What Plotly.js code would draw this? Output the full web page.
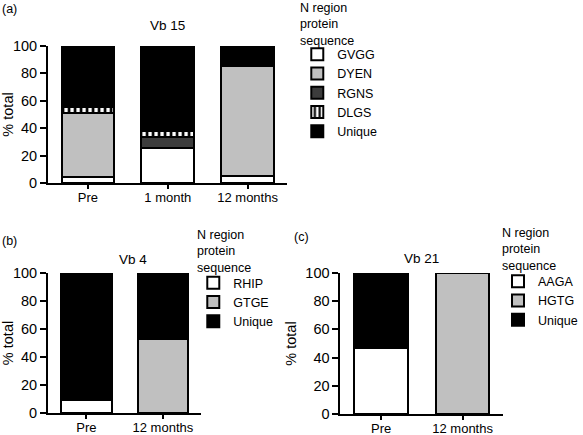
<!DOCTYPE html>
<html>
<head>
<meta charset="utf-8">
<script src="https://cdn.plot.ly/plotly-3.0.1.min.js"></script>
<style>html,body{margin:0;padding:0;background:#fff;}#chart{width:583px;height:435px;}</style>
</head>
<body>
<div id="chart"></div>
<script>
// Panel (a) Vb 15
const catsA = ['Pre', '1 month', '12 months'];
const gvgg = [4.2, 25.7, 4.8];
const dyen = [46.8, 0, 80.4];
const rgns = [0, 8.1, 0];
const dlgs = [4.6, 4.4, 0];
const uniqueA = [44.4, 61.8, 14.8];

// Panel (b) Vb 4
const catsB = ['Pre', '12 months'];
const rhip = [9.5, 0];
const gtge = [0, 53.2];
const uniqueB = [90.5, 46.8];

// Panel (c) Vb 21
const catsC = ['Pre', '12 months'];
const aaga = [46.7, 0];
const hgtg = [0, 100];
const uniqueC = [53.3, 0];

const yTicks = [0, 20, 40, 60, 80, 100];
const legendTitle = 'N region<br>protein<br>sequence';

const FONT = 'Liberation Sans, Arial, Helvetica, sans-serif';
const LINE = {color: '#000', width: 2};
const BW = 0.66;

function bar(name, x, y, color, xa, ya, leg, pattern) {
  const marker = {color: color, line: LINE};
  if (pattern) marker.pattern = pattern;
  return {type: 'bar', name: name, x: x, y: y, xaxis: xa, yaxis: ya,
          legend: leg, width: BW, marker: marker, hoverinfo: 'skip'};
}

const stripe = {shape: '|', fgcolor: '#000', bgcolor: '#fff', size: 6, solidity: 0.45};

const data = [
  bar('GVGG', catsA, gvgg, '#ffffff', 'x', 'y', 'legend'),
  bar('DYEN', catsA, dyen, '#c0c0c0', 'x', 'y', 'legend'),
  bar('RGNS', catsA, rgns, '#3c3c3c', 'x', 'y', 'legend'),
  bar('DLGS', catsA, dlgs, '#ffffff', 'x', 'y', 'legend', stripe),
  bar('Unique', catsA, uniqueA, '#000000', 'x', 'y', 'legend'),

  bar('RHIP', catsB, rhip, '#ffffff', 'x2', 'y2', 'legend2'),
  bar('GTGE', catsB, gtge, '#c0c0c0', 'x2', 'y2', 'legend2'),
  bar('Unique', catsB, uniqueB, '#000000', 'x2', 'y2', 'legend2'),

  bar('AAGA', catsC, aaga, '#ffffff', 'x3', 'y3', 'legend3'),
  bar('HGTG', catsC, hgtg, '#c0c0c0', 'x3', 'y3', 'legend3'),
  bar('Unique', catsC, uniqueC, '#000000', 'x3', 'y3', 'legend3')
];

function xax(domain, anchor, n) {
  return {domain: domain, anchor: anchor, range: [-0.5, n - 0.5], type: 'category',
          showline: true, linecolor: '#000', linewidth: 2, ticks: 'outside',
          ticklen: 4, tickwidth: 2, tickcolor: '#000', showgrid: false, zeroline: false,
          ticklabelstandoff: -3,
          tickfont: {family: FONT, size: 13, color: '#000'}, fixedrange: true};
}
function yax(domain, anchor) {
  return {domain: domain, anchor: anchor, range: [0, 100], tickvals: yTicks,
          showline: true, linecolor: '#000', linewidth: 2, ticks: 'outside',
          ticklen: 6, tickwidth: 2, tickcolor: '#000', showgrid: false, zeroline: false,
          tickfont: {family: FONT, size: 14.5, color: '#000'},
          title: {text: '% total', font: {family: FONT, size: 14.5, color: '#000'}, standoff: 5},
          fixedrange: true};
}
function leg(x, y) {
  return {x: x, y: y, xanchor: 'left', yanchor: 'top', traceorder: 'normal',
          bgcolor: 'rgba(0,0,0,0)', borderwidth: 0,
          font: {family: FONT, size: 12.5, color: '#000'},
          itemwidth: 30, itemclick: false, itemdoubleclick: false};
}
const W = 583, H = 435;
function legTitle(xpx, ypx) {
  return {text: legendTitle, x: xpx / W, y: 1 - ypx / H, xref: 'paper', yref: 'paper',
          xanchor: 'left', yanchor: 'top', align: 'left', showarrow: false,
          font: {family: FONT, size: 12.5, color: '#000'}};
}

const layout = {
  width: W, height: H,
  margin: {l: 0, r: 0, t: 0, b: 0},
  paper_bgcolor: '#fff', plot_bgcolor: '#fff',
  barmode: 'stack',
  showlegend: true,
  font: {family: FONT, color: '#000'},
  xaxis: xax([49 / W, 293 / W], 'y', 3),
  yaxis: yax([1 - 183 / H, 1 - 46 / H], 'x'),
  xaxis2: xax([49 / W, 205 / W], 'y2', 2),
  yaxis2: yax([1 - 413 / H, 1 - 273 / H], 'x2'),
  xaxis3: xax([347 / W, 513 / W], 'y3', 2),
  yaxis3: yax([1 - 414 / H, 1 - 273 / H], 'x3'),
  legend: leg(303 / W, 1 - 39.5 / H),
  legend2: leg(197 / W, 1 - 268 / H),
  legend3: leg(508 / W, 1 - 266.5 / H),
  annotations: [
    legTitle(304, -1.5),
    legTitle(199, 226),
    legTitle(510, 224.5),
    {text: '(a)', x: 0, y: 1, xref: 'paper', yref: 'paper', xanchor: 'left', yanchor: 'top',
     showarrow: false, font: {family: FONT, size: 12.5}},
    {text: '(b)', x: 0, y: 1 - 232 / H, xref: 'paper', yref: 'paper', xanchor: 'left', yanchor: 'top',
     showarrow: false, font: {family: FONT, size: 12.5}},
    {text: '(c)', x: 298 / W, y: 1 - 228 / H, xref: 'paper', yref: 'paper', xanchor: 'left', yanchor: 'top',
     showarrow: false, font: {family: FONT, size: 12.5}},
    {text: 'Vb 15', x: 0.5, xref: 'x domain', y: 1 - 26 / H, yref: 'paper', xanchor: 'center', yanchor: 'middle',
     showarrow: false, font: {family: FONT, size: 13.5}},
    {text: 'Vb 4', x: 136 / W, xref: 'paper', y: 1 - 259 / H, yref: 'paper', xanchor: 'center', yanchor: 'middle',
     showarrow: false, font: {family: FONT, size: 13.5}},
    {text: 'Vb 21', x: 0.5, xref: 'x3 domain', y: 1 - 258 / H, yref: 'paper', xanchor: 'center', yanchor: 'middle',
     showarrow: false, font: {family: FONT, size: 13.5}}
  ]
};

Plotly.newPlot('chart', data, layout, {staticPlot: true, displayModeBar: false});
</script>
</body>
</html>
